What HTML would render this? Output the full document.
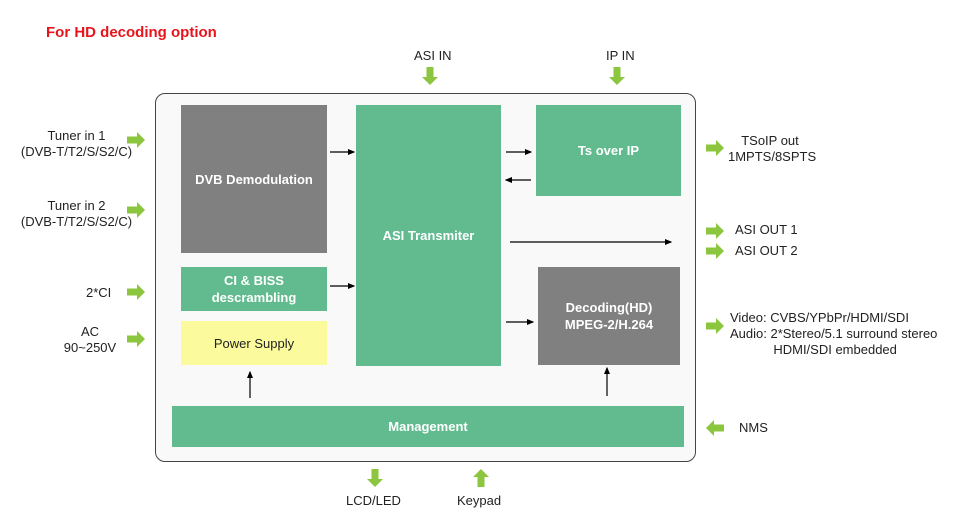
<!DOCTYPE html>
<html><head><style>
body{margin:0;width:960px;height:528px;background:#fff;position:relative;font-family:"Liberation Sans",sans-serif;overflow:hidden}
.a{position:absolute}
.b{position:absolute;display:flex;align-items:center;justify-content:center;text-align:center;color:#fff;font-weight:bold;font-size:13px;line-height:17px}
.t{position:absolute;font-size:13px;color:#222;line-height:16px;white-space:nowrap}
</style></head><body>
<div class="a" style="left:46px;top:24px;color:#e8141c;font-weight:bold;font-size:15px">For HD decoding option</div>
<div class="a" style="left:155px;top:93px;width:539px;height:367px;border:1.3px solid #444;border-radius:10px;background:#f9f9f9"></div>
<div class="b" style="left:181px;top:105px;width:146px;height:148px;background:#808080">DVB Demodulation</div>
<div class="b" style="left:181px;top:267px;width:146px;height:44px;background:#61bb8f">CI &amp; BISS<br>descrambling</div>
<div class="b" style="left:181px;top:321px;width:146px;height:44px;background:#fbfb9d;color:#222;font-weight:normal">Power Supply</div>
<div class="b" style="left:356px;top:105px;width:145px;height:261px;background:#61bb8f">ASI Transmiter</div>
<div class="b" style="left:536px;top:105px;width:145px;height:91px;background:#61bb8f">Ts over IP</div>
<div class="b" style="left:538px;top:267px;width:142px;height:98px;background:#808080">Decoding(HD)<br>MPEG-2/H.264</div>
<div class="b" style="left:172px;top:406px;width:512px;height:41px;background:#61bb8f">Management</div>
<svg class="a" style="left:0;top:0" width="960" height="528">
<defs>
<marker id="m" markerWidth="6" markerHeight="6" refX="5" refY="3" orient="auto"><path d="M0,0.5L6,3L0,5.5z" fill="#000"/></marker>
<g id="g"><path d="M0,-3.5H10V-8L18,0L10,8V3.5H0z" fill="#8cc63f"/></g>
</defs>
<g stroke="#000" stroke-width="1.2" marker-end="url(#m)">
<line x1="330" y1="152" x2="354" y2="152"/>
<line x1="330" y1="286" x2="354" y2="286"/>
<line x1="506" y1="152" x2="531" y2="152"/>
<line x1="531" y1="180" x2="506" y2="180"/>
<line x1="510" y1="242" x2="671" y2="242"/>
<line x1="506" y1="322" x2="533" y2="322"/>
<line x1="250" y1="398" x2="250" y2="372"/>
<line x1="607" y1="396" x2="607" y2="368"/>
</g>
<use href="#g" transform="translate(127,140)"/>
<use href="#g" transform="translate(127,210)"/>
<use href="#g" transform="translate(127,292)"/>
<use href="#g" transform="translate(127,339)"/>
<use href="#g" transform="translate(706,148)"/>
<use href="#g" transform="translate(706,231)"/>
<use href="#g" transform="translate(706,251)"/>
<use href="#g" transform="translate(706,326)"/>
<use href="#g" transform="translate(724,428) rotate(180)"/>
<use href="#g" transform="translate(430,67) rotate(90)"/>
<use href="#g" transform="translate(617,67) rotate(90)"/>
<use href="#g" transform="translate(375,469) rotate(90)"/>
<use href="#g" transform="translate(481,487) rotate(-90)"/>
</svg>
<div class="t" style="left:414px;top:48px">ASI IN</div>
<div class="t" style="left:606px;top:48px">IP IN</div>
<div class="t" style="left:20px;top:128px;text-align:center;width:113px">Tuner in 1<br>(DVB-T/T2/S/S2/C)</div>
<div class="t" style="left:20px;top:198px;text-align:center;width:113px">Tuner in 2<br>(DVB-T/T2/S/S2/C)</div>
<div class="t" style="left:86px;top:285px">2*CI</div>
<div class="t" style="left:60px;top:324px;text-align:center;width:60px">AC<br>90~250V</div>
<div class="t" style="left:728px;top:133px;text-align:center;width:84px">TSoIP out<br>1MPTS/8SPTS</div>
<div class="t" style="left:735px;top:222px">ASI OUT 1</div>
<div class="t" style="left:735px;top:243px">ASI OUT 2</div>
<div class="t" style="left:730px;top:310px">Video: CVBS/YPbPr/HDMI/SDI<br>Audio: 2*Stereo/5.1 surround stereo<br>&nbsp;&nbsp;&nbsp;&nbsp;&nbsp;&nbsp;&nbsp;&nbsp;&nbsp;&nbsp;&nbsp;&nbsp;HDMI/SDI embedded</div>
<div class="t" style="left:739px;top:420px">NMS</div>
<div class="t" style="left:346px;top:493px">LCD/LED</div>
<div class="t" style="left:457px;top:493px">Keypad</div>
</body></html>
